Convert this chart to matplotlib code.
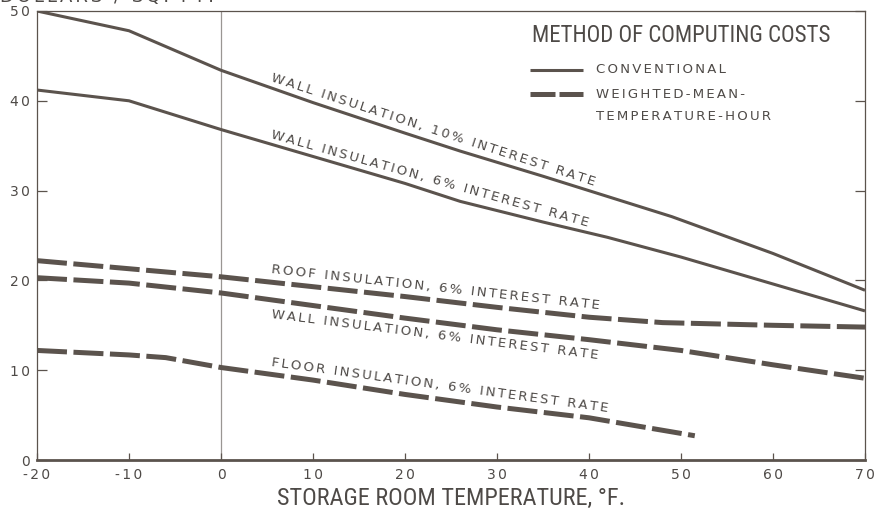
import numpy as np
import matplotlib
matplotlib.use("Agg")
import matplotlib.pyplot as plt
from matplotlib import font_manager

plt.rcParams["axes.unicode_minus"] = False

# temperature (F) vs. cost (dollars / sq. ft.)
wall10_t = [-20, -10, 0, 10, 20, 26, 35, 49, 60, 70]
wall10_v = [50.0, 47.8, 43.4, 39.8, 36.4, 34.4, 31.6, 27.1, 23.0, 18.9]

wall6_t = [-20, -10, 0, 10, 20, 26, 35, 42, 50, 60, 70]
wall6_v = [41.2, 40.0, 36.8, 33.8, 30.8, 28.8, 26.5, 24.8, 22.6, 19.6, 16.6]

roof_t = [-20, -10, 0, 10, 20, 30, 40, 48, 60, 70]
roof_v = [22.2, 21.3, 20.4, 19.3, 18.2, 17.0, 15.9, 15.3, 15.0, 14.8]

wallw_t = [-20, -10, 0, 10, 20, 30, 40, 50, 60, 70]
wallw_v = [20.3, 19.7, 18.6, 17.2, 15.8, 14.5, 13.4, 12.2, 10.6, 9.1]

floor_t = [-20, -10, -6, 0, 10, 20, 30, 40, 51.5]
floor_v = [12.2, 11.7, 11.4, 10.3, 8.9, 7.3, 5.9, 4.7, 2.7]

x_ticks = [-20, -10, 0, 10, 20, 30, 40, 50, 60, 70]
y_ticks = [0, 10, 20, 30, 40, 50]

names = {f.name for f in font_manager.fontManager.ttflist}
cond = "DejaVu Sans"
for n in ["Roboto Condensed", "Liberation Sans Narrow", "Open Sans Condensed"]:
    if n in names:
        cond = n
        break

ink = "#5b534d"
txt = "#4e4a47"


def spaced(s):
    # wide letter spacing like the original lettering
    return "\u2006".join(s)


fig = plt.figure(figsize=(8.77, 5.16), dpi=100)
ax = fig.add_axes([37/877, 1-460/516, 828/877, 449/516])

solid = dict(color=ink, lw=2.2, solid_capstyle="butt")
dash = dict(color=ink, lw=3.6, linestyle=(0, (6, 1.3)), dash_capstyle="butt")

ax.axvline(0, color="#9a9693", lw=0.9, zorder=1)
ax.plot(wall10_t, wall10_v, **solid)
ax.plot(wall6_t, wall6_v, **solid)
ax.plot(roof_t, roof_v, **dash)
ax.plot(wallw_t, wallw_v, **dash)
ax.plot(floor_t, floor_v, **dash)

ax.set_xlim(-20, 70)
ax.set_ylim(0, 50)
ax.set_xticks(x_ticks)
ax.set_xticklabels([spaced(str(t)) for t in x_ticks])
ax.set_yticks(y_ticks)
ax.set_yticklabels([spaced(str(t)) for t in y_ticks])
ax.tick_params(axis="x", direction="in", length=5, width=0.9, color=ink,
               labelsize=10, labelcolor=txt, pad=6)
ax.tick_params(axis="y", direction="in", length=7, width=0.9, color=ink,
               labelsize=10, labelcolor=txt, pad=5, right=True)
for s in ["left", "right", "top"]:
    ax.spines[s].set_linewidth(0.9)
    ax.spines[s].set_color(ink)
ax.spines["bottom"].set_linewidth(2.0)
ax.spines["bottom"].set_color(ink)

ax.set_xlabel("STORAGE ROOM TEMPERATURE, °F.", family=cond, fontsize=17.5,
              color=txt, labelpad=3)


# curve labels, rotated along the curve
def label(t, v, text, x0, dy):
    y0 = np.interp(x0, t, v) + dy
    slope = (np.interp(40, t, v) - np.interp(5, t, v)) / 35
    ang = np.degrees(np.arctan(slope))
    ax.text(x0, y0, spaced(text), rotation=ang, rotation_mode="anchor",
            transform_rotates_text=True, ha="left", va="center",
            fontsize=9.5, color=txt)


label(wall10_t, wall10_v, "WALL INSULATION, 10% INTEREST RATE", 5.5, 1.1)
label(wall6_t, wall6_v, "WALL INSULATION, 6% INTEREST RATE", 5.5, 1.1)
label(roof_t, roof_v, "ROOF INSULATION, 6% INTEREST RATE", 5.5, 1.4)
label(wallw_t, wallw_v, "WALL INSULATION, 6% INTEREST RATE", 5.5, -1.6)
label(floor_t, floor_v, "FLOOR INSULATION, 6% INTEREST RATE", 5.5, 1.3)

# legend block
ax.text(0.598, 0.9465, "METHOD OF COMPUTING COSTS", transform=ax.transAxes,
        family=cond, fontsize=16.5, color=txt, ha="left", va="center")
ax.plot([0.5954, 0.6594], [0.8686, 0.8686], transform=ax.transAxes, **solid)
ax.plot([0.5954, 0.6250], [0.815, 0.815], transform=ax.transAxes,
        color=ink, lw=3.6, solid_capstyle="butt")
ax.plot([0.6310, 0.6594], [0.815, 0.815], transform=ax.transAxes,
        color=ink, lw=3.6, solid_capstyle="butt")
ax.text(0.675, 0.8686, spaced("CONVENTIONAL"), transform=ax.transAxes,
        fontsize=9.5, color=txt, ha="left", va="center")
ax.text(0.675, 0.815, spaced("WEIGHTED-MEAN-"), transform=ax.transAxes,
        fontsize=9.5, color=txt, ha="left", va="center")
ax.text(0.675, 0.764, spaced("TEMPERATURE-HOUR"), transform=ax.transAxes,
        fontsize=9.5, color=txt, ha="left", va="center")

# y label, partly cut off by the top edge as in the scan
fig.text(0.0, 1.006, spaced("DOLLARS / SQ. FT."), fontsize=13, color=txt,
         ha="left", va="center")

fig.savefig("out.png", dpi=100)
